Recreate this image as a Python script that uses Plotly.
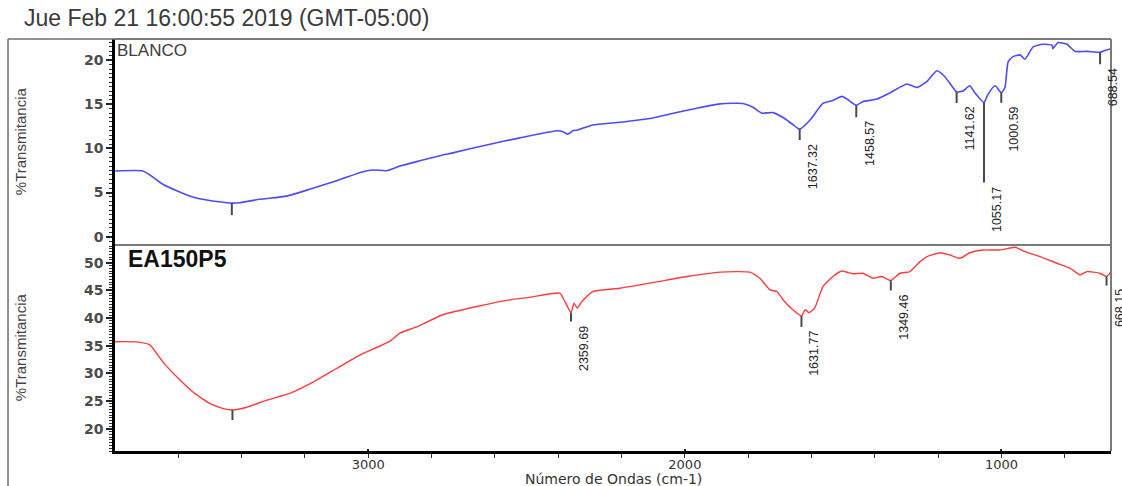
import numpy as np
import plotly.graph_objects as go

# ---- text ----
title_text = "Jue Feb 21 16:00:55 2019 (GMT-05:00)"
x_title = "Número de Ondas (cm-1)"
y_title = "%Transmitancia"
name_top = "BLANCO"
name_bottom = "EA150P5"

# ---- BLANCO spectrum (wavenumber cm-1, %T) ----
blanco_wn = [3800, 3712, 3690, 3649, 3605, 3555, 3501, 3447, 3431, 3406, 3343, 3258,
             3185, 3100, 3017, 2986, 2942, 2900, 2837, 2774, 2733, 2626, 2521, 2404,
             2385, 2370, 2354, 2338, 2291, 2205, 2111, 2047, 1962, 1889, 1817, 1785,
             1757, 1722, 1690, 1662, 1637.32, 1605, 1564, 1535, 1504, 1488, 1458.57,
             1438, 1393, 1352, 1299, 1267, 1235, 1204, 1178, 1141.62, 1122, 1100,
             1084, 1055.17, 1043, 1020, 1000.59, 989, 979, 964, 941, 926, 900, 869,
             840, 838, 821, 793, 768, 730, 688.54, 673, 654]
blanco_t = [7.45, 7.45, 7.0, 5.94, 5.2, 4.5, 4.1, 3.85, 3.8, 3.85, 4.24, 4.6,
            5.37, 6.35, 7.37, 7.56, 7.48, 8.0, 8.6, 9.18, 9.5, 10.4, 11.2, 12.0,
            11.9, 11.6, 12.0, 12.1, 12.66, 12.97, 13.4, 13.9, 14.56, 15.05, 15.1, 14.67,
            14.0, 14.06, 13.5, 12.8, 12.2, 13.2, 15.1, 15.4, 15.9, 15.6, 14.9,
            15.3, 15.6, 16.3, 17.3, 16.9, 17.6, 18.8, 18.1, 16.4, 16.5, 17.1,
            16.3, 15.2, 16.1, 17.1, 16.3, 16.9, 19.8, 20.4, 20.6, 20.1, 21.5, 21.8,
            21.7, 21.3, 22.0, 21.8, 21.0, 21.0, 20.9, 21.1, 21.3]

# ---- EA150P5 spectrum ----
ea_wn = [3800, 3731, 3690, 3649, 3605, 3555, 3501, 3460, 3429, 3384, 3320, 3248,
         3185, 3100, 3027, 2930, 2900, 2847, 2765, 2657, 2553, 2490, 2395, 2379,
         2359.69, 2350, 2340, 2325, 2291, 2205, 2101, 1994, 1889, 1795, 1763, 1731,
         1709, 1690, 1659, 1631.77, 1620, 1608, 1590, 1564, 1532, 1504, 1469, 1438,
         1406, 1378, 1349.46, 1321, 1289, 1257, 1235, 1194, 1163, 1131, 1100, 1058,
         1005, 957, 926, 878, 825, 783, 752, 730, 689, 668.15, 654]
ea_t = [35.74, 35.7, 35.15, 32.1, 29.4, 26.7, 24.6, 23.7, 23.4, 23.9, 25.2, 26.4,
        28.1, 30.9, 33.3, 35.9, 37.3, 38.4, 40.6, 42.1, 43.3, 43.75, 44.5, 43.0,
        41.0, 42.7, 41.8, 43.0, 44.8, 45.4, 46.4, 47.5, 48.3, 48.3, 47.2, 45.1,
        44.8, 43.3, 41.5, 40.4, 41.5, 41.0, 41.8, 45.7, 47.5, 48.5, 48.0, 48.1,
        47.2, 47.5, 46.8, 48.1, 48.4, 50.2, 51.1, 51.8, 51.4, 50.8, 51.8, 52.3,
        52.3, 52.8, 52.0, 51.1, 49.9, 49.0, 47.8, 48.4, 48.1, 47.5, 48.4]

# ---- marked peaks ----
blanco_peaks = [3431, 1637.32, 1458.57, 1141.62, 1055.17, 1000.59, 688.54]
blanco_peak_labels = ["", "1637.32", "1458.57", "1141.62", "1055.17", "1000.59", "688.54"]
blanco_tick_px = [12, 11, 12, 11, 80, 10, 12]

ea_peaks = [3429, 2359.69, 1631.77, 1349.46, 668.15]
ea_peak_labels = ["", "2359.69", "1631.77", "1349.46", "668.15"]
ea_tick_px = [10, 9, 11, 10, 9]

X_RANGE = [3800, 654]
TEXT_FONT = "Liberation Sans, Arial, sans-serif"
NARROW_FONT = "Liberation Sans Narrow, Arial Narrow, Liberation Sans, Arial, sans-serif"

fig = go.Figure()
fig.add_trace(go.Scatter(x=blanco_wn, y=blanco_t, mode="lines", xaxis="x", yaxis="y2",
                         line=dict(color="#4b4bff", width=1.6, shape="spline", smoothing=0.5),
                         hoverinfo="x+y"))
fig.add_trace(go.Scatter(x=ea_wn, y=ea_t, mode="lines", xaxis="x", yaxis="y",
                         line=dict(color="#ff3b3b", width=1.4, shape="spline", smoothing=0.5),
                         hoverinfo="x+y"))

shapes = []
annotations = []


def mark_peaks(wn, tr, peaks, labels, lens, yref):
    order = np.argsort(wn)
    xs = np.asarray(wn, float)[order]
    ys = np.asarray(tr, float)[order]
    for p, lab, ln in zip(peaks, labels, lens):
        val = float(np.interp(p, xs, ys))
        shapes.append(dict(type="line", xref="x", yref=yref,
                           xsizemode="pixel", xanchor=p, x0=0, x1=0,
                           ysizemode="pixel", yanchor=val, y0=0, y1=-ln,
                           line=dict(color="#4a4a4a", width=2)))
        if lab:
            annotations.append(dict(x=p, y=val, xref="x", yref=yref, text=lab,
                                    showarrow=False, textangle=-90,
                                    xanchor="center", yanchor="top",
                                    xshift=13, yshift=-(ln + 2),
                                    font=dict(family=NARROW_FONT, size=12.5, color="#222222")))


mark_peaks(blanco_wn, blanco_t, blanco_peaks, blanco_peak_labels, blanco_tick_px, "y2")
mark_peaks(ea_wn, ea_t, ea_peaks, ea_peak_labels, ea_tick_px, "y")

# panel frame: gray top, separator and right edge; outer box on the left
frame = dict(color="#7a7a7a", width=2)
shapes += [
    dict(type="line", xref="paper", yref="paper", x0=0, x1=1, y0=1, y1=1, line=frame),
    dict(type="line", xref="paper", yref="paper", x0=0, x1=1, y0=0.5, y1=0.5, line=frame),
    dict(type="line", xref="paper", yref="paper", x0=1, x1=1, y0=0, y1=1, line=frame),
    dict(type="line", xref="paper", yref="paper", x0=-0.1074, x1=0, y0=1, y1=1,
         line=dict(color="#6e6e6e", width=1.5)),
    dict(type="line", xref="paper", yref="paper", x0=-0.1074, x1=-0.1074, y0=-0.2, y1=1,
         line=dict(color="#6e6e6e", width=1.5)),
]

annotations += [
    dict(text=title_text, xref="paper", yref="paper", x=-0.0934, y=1.052,
         xanchor="left", yanchor="middle", showarrow=False,
         font=dict(family=TEXT_FONT, size=23, color="#3a3a3a")),
    dict(text=name_top, xref="paper", yref="paper", x=0.0, y=0.999,
         xanchor="left", yanchor="top", showarrow=False,
         font=dict(family=TEXT_FONT, size=17, color="#3c3c3c")),
    dict(text="<b>" + name_bottom + "</b>", xref="paper", yref="paper", x=0.011, y=0.503,
         xanchor="left", yanchor="top", showarrow=False,
         font=dict(family=TEXT_FONT, size=23, color="#111111")),
    dict(text=y_title, xref="paper", yref="paper", x=-0.0954, y=0.752,
         xanchor="center", yanchor="middle", textangle=-90, showarrow=False,
         font=dict(family=NARROW_FONT, size=15, color="#444444")),
    dict(text=y_title, xref="paper", yref="paper", x=-0.0954, y=0.252,
         xanchor="center", yanchor="middle", textangle=-90, showarrow=False,
         font=dict(family=NARROW_FONT, size=15, color="#444444")),
    dict(text=x_title, xref="paper", yref="paper", x=0.501, y=-0.068,
         xanchor="center", yanchor="middle", showarrow=False,
         font=dict(family="DejaVu Sans, sans-serif", size=14, color="#333333")),
]

yaxis_common = dict(
    showline=True, linecolor="black", linewidth=2.5, mirror=False,
    ticks="outside", ticklen=6, tickwidth=1.5, tickcolor="#222222",
    dtick=5, tick0=0, showgrid=False, zeroline=False,
    tickfont=dict(family="DejaVu Sans, sans-serif", size=14, color="#4a4a4a", weight="bold"),
    minor=dict(dtick=0.5, ticks="outside", ticklen=3, tickcolor="#333333", tickwidth=1, showgrid=False),
)

fig.update_layout(
    width=1122, height=486,
    margin=dict(l=115, r=11, t=39, b=35),
    paper_bgcolor="white", plot_bgcolor="white",
    showlegend=False,
    xaxis=dict(range=X_RANGE, anchor="y", domain=[0, 1],
               showline=True, linecolor="black", linewidth=2.5,
               ticks="inside", ticklen=2, tickwidth=1.5, tickcolor="#222222",
               dtick=1000, tick0=0, showgrid=False, zeroline=False,
               tickfont=dict(family="DejaVu Sans, sans-serif", size=13, color="#333333"),
               minor=dict(dtick=200, tick0=0, ticks="outside", ticklen=4, tickcolor="#333333",
                          tickwidth=1.2, showgrid=False)),
    yaxis=dict(domain=[0, 0.5], range=[16.0, 53.2], anchor="x", **yaxis_common),
    yaxis2=dict(domain=[0.5, 1], range=[-0.94, 22.4], anchor="x", **yaxis_common),
    shapes=shapes,
    annotations=annotations,
)

fig.write_html("out.html")
